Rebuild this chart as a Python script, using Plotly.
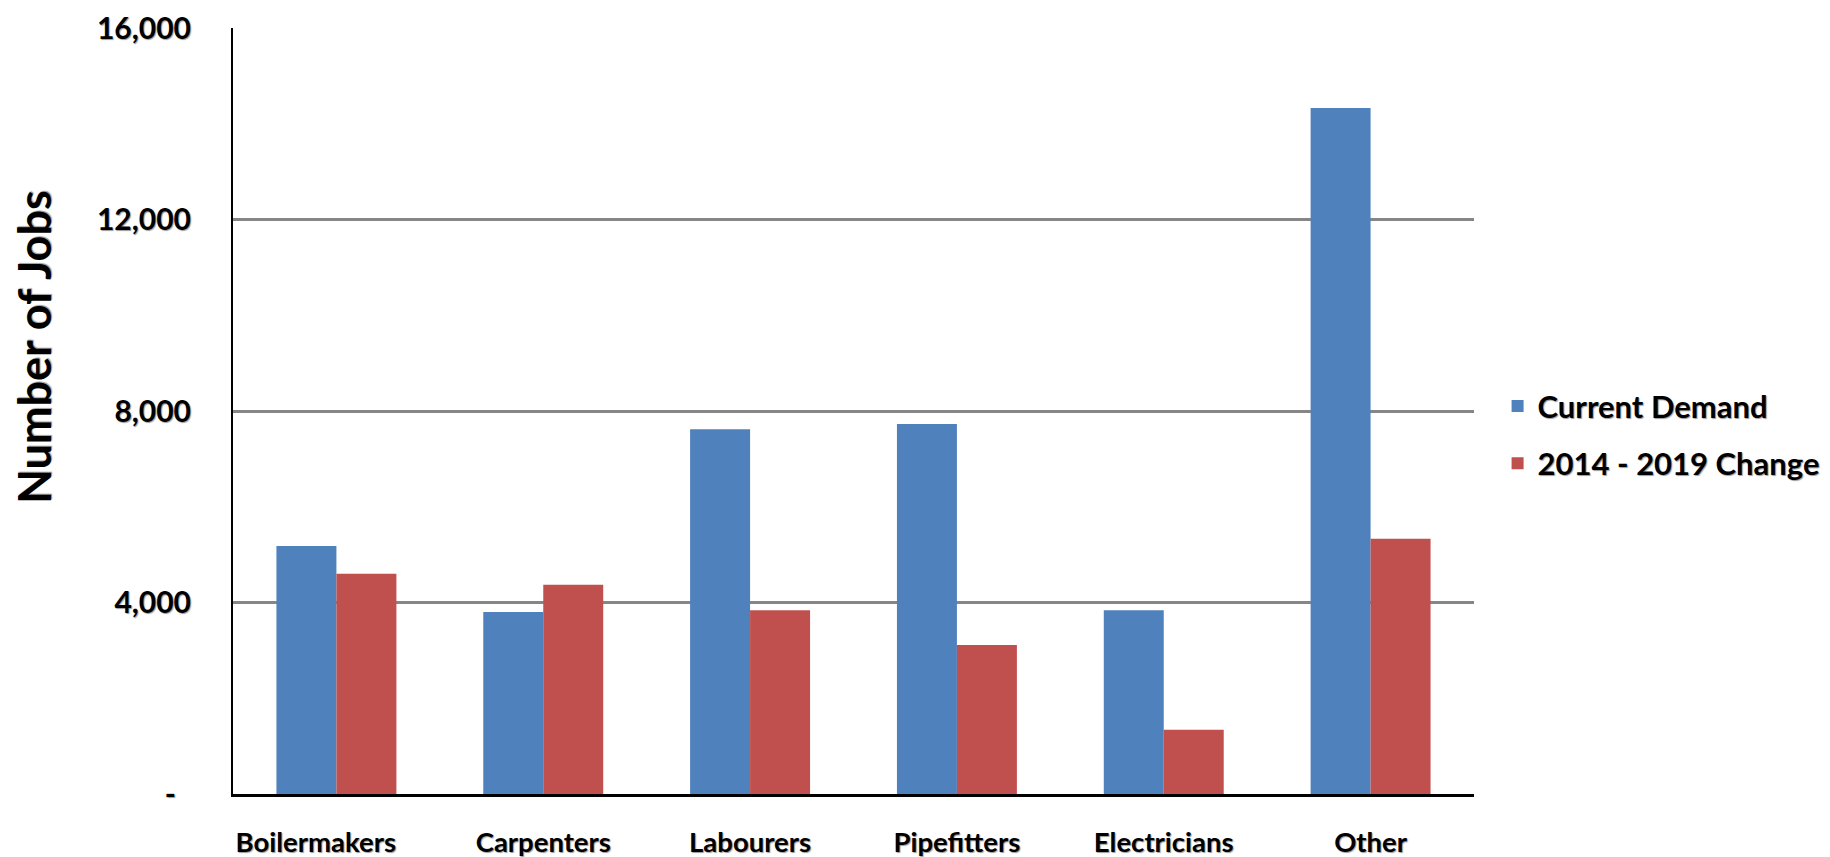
import plotly.graph_objects as go

categories = ["Boilermakers", "Carpenters", "Labourers", "Pipefitters", "Electricians", "Other"]
current_demand = [5180, 3800, 7620, 7730, 3840, 14330]
change_2014_2019 = [4600, 4370, 3840, 3110, 1340, 5330]
series_names = ["Current Demand", "2014 - 2019 Change"]
tick_values = [0, 4000, 8000, 12000, 16000]
tick_labels = ["-\u2002", "4,000", "8,000", "12,000", "16,000"]
category_labels = ["Boilermakers\u2002\u2002\u2002", "Carpenters", "Labourers",
                   "Pipefitters", "Electricians", "Other"]
y_title = "Number of Jobs"

FONT = "Lato"
SHADOW = "1px 1px 1px #9a9a9a"

fig = go.Figure()
fig.add_trace(go.Bar(x=categories, y=current_demand, name=series_names[0], legendgroup="a",
                     marker=dict(color="#4F81BD", line=dict(width=0))))
fig.add_trace(go.Bar(x=categories, y=change_2014_2019, name=series_names[1], legendgroup="b",
                     marker=dict(color="#C0504D", line=dict(width=0))))

fig.update_layout(
    template="none",
    width=1830, height=857,
    margin=dict(l=225, r=364, t=20, b=71, autoexpand=False),
    paper_bgcolor="white", plot_bgcolor="white",
    barmode="group", bargap=0.42, bargroupgap=0,
    font=dict(family=FONT, color="black", size=27, weight="bold"),
    legend=dict(x=1.019, xanchor="left", y=0.469, yanchor="middle",
                font=dict(family=FONT, size=31, weight="bold", shadow=SHADOW),
                tracegroupgap=14, itemwidth=30, bgcolor="rgba(0,0,0,0)"),
    showlegend=True,
    annotations=[dict(text=y_title, xref="paper", yref="paper", x=-0.161, y=0.584,
                      xanchor="center", yanchor="middle", textangle=-90, showarrow=False,
                      font=dict(family=FONT, size=45, weight="bold", shadow=SHADOW))],
)
fig.update_xaxes(showline=True, linecolor="black", linewidth=3, showgrid=False,
                 tickvals=categories, ticktext=category_labels,
                 ticks="", tickfont=dict(family=FONT, size=27.5, weight="bold", shadow=SHADOW),
                 ticklabelstandoff=22, automargin=False, fixedrange=True)
fig.update_yaxes(range=[0, 16000], tickvals=tick_values, ticktext=tick_labels,
                 showline=True, linecolor="black", linewidth=2,
                 showgrid=True, gridcolor="#868686", gridwidth=3,
                 ticks="", tickfont=dict(family=FONT, size=30, weight="bold", shadow=SHADOW),
                 ticklabelstandoff=34, zeroline=False, automargin=False, fixedrange=True)

fig.write_html("out.html")
